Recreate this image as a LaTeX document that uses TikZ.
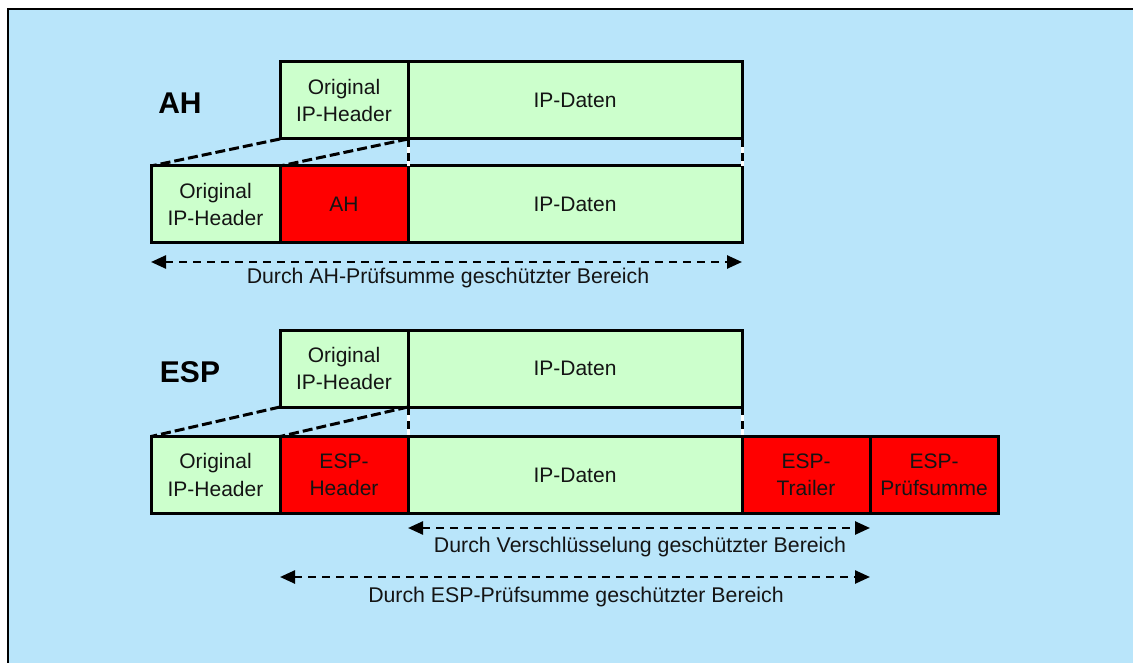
\documentclass[tikz,border=0pt]{standalone}
\usepackage{fontspec}
\setmainfont{Liberation Sans}
\usetikzlibrary{arrows.meta}
\definecolor{bg}{RGB}{185,229,250}
\definecolor{pkt}{RGB}{204,255,204}
\definecolor{sec}{RGB}{255,0,0}
\definecolor{txt}{RGB}{20,20,20}
\begin{document}
\begin{tikzpicture}[x=1pt,y=-1pt,
  field/.style={draw=black, line width=3pt, inner sep=0pt, outer sep=0pt,
    minimum height=77pt, align=center, text=txt,
    font=\fontsize{21}{27.5}\selectfont},
  plain/.style={field, fill=pkt},
  secure/.style={field, fill=sec},
  narrow/.style={minimum width=128pt},
  wide/.style={minimum width=334pt},
  title/.style={font=\fontsize{30}{34}\selectfont\bfseries, text=black},
  caption/.style={font=\fontsize{21.3}{24}\selectfont, text=txt, inner sep=0pt},
  link/.style={line width=3pt, dash pattern=on 10pt off 4pt},
  gapline/.style={line width=3pt, dash pattern=on 8pt off 6pt},
  spanarrow/.style={line width=2.5pt, dash pattern=on 8pt off 6pt,
    {Triangle[length=15pt,width=13pt]}-{Triangle[length=15pt,width=13pt]}}]
\useasboundingbox (0,0) rectangle (1133,663);
\fill[bg] (8,9) rectangle (1133,663);
\draw[line width=2.5pt] (8,663) -- (8,9) -- (1133,9);

% ---------- AH ----------
\node[title] (ahlabel) at (180,103) {AH};
\node[plain, narrow] (ah1) at (344,100.5) {Original\\IP-Header};
\node[plain, wide] (ad1) at (575,100.5) {IP-Daten};
\node[plain, minimum width=129pt] (ah2) at (215.5,204.5) {Original\\IP-Header};
\node[secure, narrow] (ahb) at (344,204.5) {AH};
\node[plain, wide] (ad2) at (575,204.5) {IP-Daten};

\draw[link] (ah1.south west) -- (ah2.north west);
\draw[link] (ah1.south east) -- (ahb.north west);
\draw[white, line width=3pt] (ad1.south west) -- (ad2.north west);
\draw[gapline] (ad1.south west) -- (ad2.north west);
\draw[white, line width=3pt] (ad1.south east) -- (ad2.north east);
\draw[gapline] (ad1.south east) -- (ad2.north east);

\coordinate (a1) at (151,262);
\coordinate (a2) at (742,262);
\draw[spanarrow] (a1) -- (a2);
\node[caption] (acap) at (448,278) {Durch AH-Prüfsumme geschützter Bereich};

% ---------- ESP ----------
\node[title] (esplabel) at (190,372) {ESP};
\node[plain, narrow] (eh1) at (344,368.5) {Original\\IP-Header};
\node[plain, wide] (ed1) at (575,368.5) {IP-Daten};
\node[plain, minimum width=129pt] (eh2) at (215.5,475) {Original\\IP-Header};
\node[secure, narrow] (ehb) at (344,475) {ESP-\\Header};
\node[plain, wide] (ed2) at (575,475) {IP-Daten};
\node[secure, narrow] (etr) at (806,475) {ESP-\\Trailer};
\node[secure, narrow] (eps) at (934,475) {ESP-\\Prüfsumme};

\draw[link] (eh1.south west) -- (eh2.north west);
\draw[link] (eh1.south east) -- (ehb.north west);
\draw[white, line width=3pt] (ed1.south west) -- (ed2.north west);
\draw[gapline] (ed1.south west) -- (ed2.north west);
\draw[white, line width=3pt] (ed1.south east) -- (ed2.north east);
\draw[gapline] (ed1.south east) -- (ed2.north east);

\coordinate (e1) at (408,528);
\coordinate (e2) at (870,528);
\draw[spanarrow] (e1) -- (e2);
\node[caption] (ecap1) at (640,547) {Durch Verschlüsselung geschützter Bereich};

\coordinate (e3) at (280,577);
\coordinate (e4) at (870,577);
\draw[spanarrow] (e3) -- (e4);
\node[caption] (ecap2) at (576,597) {Durch ESP-Prüfsumme geschützter Bereich};
\end{tikzpicture}
\end{document}
